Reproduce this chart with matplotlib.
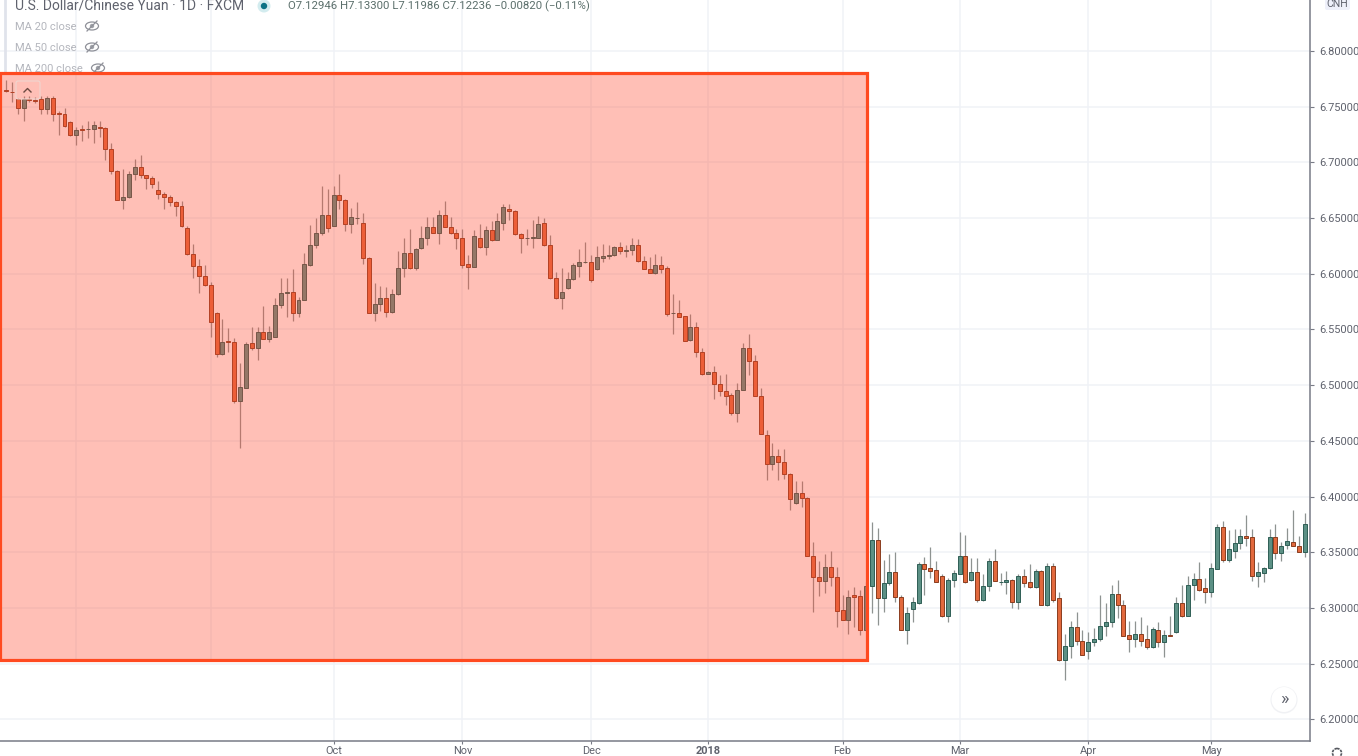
#!/usr/bin/env python3
"""USD/CNH daily candles with the shaded downtrend box."""

import matplotlib

matplotlib.use("Agg")

import matplotlib.pyplot as plt
import numpy as np
from matplotlib.patches import Circle, Ellipse, FancyBboxPatch, Rectangle
from matplotlib.transforms import Affine2D

plt.rcParams["font.family"] = ["Roboto", "DejaVu Sans"]

OPENS = [
    6.765, 6.7635, 6.757, 6.749, 6.757, 6.756, 6.757, 6.748, 6.758, 6.744,
    6.743, 6.736, 6.725, 6.730, 6.730, 6.730, 6.732, 6.731, 6.712, 6.692,
    6.666, 6.669, 6.690, 6.696, 6.689, 6.686, 6.675, 6.672, 6.669, 6.664,
    6.661, 6.641, 6.6175, 6.607, 6.598, 6.590, 6.565, 6.528, 6.5395, 6.539,
    6.486, 6.497, 6.538, 6.533, 6.548, 6.541, 6.543, 6.572, 6.583, 6.584,
    6.565, 6.576, 6.608, 6.626, 6.637, 6.653, 6.643, 6.671, 6.666, 6.645,
    6.650, 6.646, 6.614, 6.565, 6.573, 6.578, 6.566, 6.582, 6.605, 6.619,
    6.605, 6.623, 6.632, 6.642, 6.637, 6.653, 6.642, 6.637, 6.632, 6.609,
    6.606, 6.632, 6.624, 6.639, 6.630, 6.646, 6.658, 6.656, 6.636, 6.632,
    6.632, 6.632, 6.6455, 6.6255, 6.596, 6.578, 6.587, 6.595, 6.607, 6.611,
    6.611, 6.604, 6.6145, 6.616, 6.617, 6.624, 6.620, 6.621, 6.6255, 6.6115,
    6.604, 6.6005, 6.608, 6.605, 6.565, 6.565, 6.562, 6.5405, 6.5525, 6.530,
    6.510, 6.512, 6.501, 6.495, 6.491, 6.475, 6.496, 6.533, 6.522, 6.490,
    6.455, 6.429, 6.4365, 6.431, 6.420, 6.3945, 6.403, 6.399, 6.347, 6.3275,
    6.324, 6.337, 6.3275, 6.298, 6.289, 6.312, 6.311, 6.280, 6.320, 6.361,
    6.309, 6.322, 6.332, 6.3095, 6.280, 6.299, 6.304, 6.339, 6.336, 6.334,
    6.329, 6.293, 6.325, 6.3305, 6.3465, 6.325, 6.332, 6.307, 6.320, 6.342,
    6.3235, 6.3235, 6.325, 6.305, 6.329, 6.3235, 6.3185, 6.333, 6.303, 6.338,
    6.3085, 6.253, 6.266, 6.283, 6.270, 6.261, 6.2695, 6.2725, 6.2835, 6.2875,
    6.3125, 6.303, 6.2755, 6.2725, 6.277, 6.272, 6.2645, 6.2805, 6.269, 6.2755,
    6.278, 6.3045, 6.293, 6.3205, 6.326, 6.318, 6.3145, 6.335, 6.373, 6.343,
    6.351, 6.358, 6.365, 6.3635, 6.329, 6.331, 6.3355, 6.364, 6.349, 6.3565,
    6.3595, 6.356, 6.350,
]
CLOSES = [
    6.764, 6.763, 6.749, 6.757, 6.756, 6.755, 6.748, 6.758, 6.743, 6.743,
    6.733, 6.725, 6.729, 6.729, 6.730, 6.734, 6.731, 6.712, 6.692, 6.666,
    6.669, 6.690, 6.696, 6.689, 6.686, 6.681, 6.672, 6.669, 6.664, 6.661,
    6.643, 6.6175, 6.607, 6.598, 6.590, 6.557, 6.528, 6.539, 6.539, 6.486,
    6.498, 6.537, 6.533, 6.548, 6.541, 6.548, 6.572, 6.583, 6.584, 6.565,
    6.576, 6.609, 6.626, 6.637, 6.653, 6.641, 6.671, 6.666, 6.645, 6.651,
    6.650, 6.614, 6.565, 6.573, 6.578, 6.566, 6.582, 6.605, 6.619, 6.605,
    6.622, 6.632, 6.642, 6.637, 6.653, 6.642, 6.637, 6.632, 6.608, 6.606,
    6.634, 6.624, 6.639, 6.630, 6.647, 6.660, 6.656, 6.636, 6.632, 6.632,
    6.633, 6.645, 6.6255, 6.596, 6.578, 6.584, 6.595, 6.608, 6.611, 6.611,
    6.594, 6.615, 6.616, 6.617, 6.624, 6.620, 6.621, 6.6255, 6.6115, 6.604,
    6.601, 6.608, 6.604, 6.564, 6.565, 6.5615, 6.540, 6.5525, 6.530, 6.510,
    6.512, 6.501, 6.495, 6.4905, 6.475, 6.496, 6.533, 6.522, 6.490, 6.456,
    6.429, 6.4365, 6.431, 6.420, 6.3975, 6.403, 6.399, 6.347, 6.3275, 6.324,
    6.337, 6.3275, 6.2975, 6.289, 6.310, 6.310, 6.280, 6.320, 6.361, 6.309,
    6.322, 6.332, 6.3095, 6.280, 6.2955, 6.305, 6.339, 6.335, 6.3335, 6.323,
    6.293, 6.325, 6.331, 6.3465, 6.323, 6.332, 6.307, 6.320, 6.342, 6.324,
    6.3235, 6.325, 6.305, 6.329, 6.322, 6.3185, 6.333, 6.303, 6.338, 6.307,
    6.253, 6.266, 6.283, 6.270, 6.258, 6.269, 6.2725, 6.284, 6.2875, 6.3125,
    6.303, 6.275, 6.2725, 6.277, 6.2705, 6.2645, 6.281, 6.269, 6.2755, 6.275,
    6.3045, 6.293, 6.321, 6.326, 6.3165, 6.3145, 6.3355, 6.373, 6.343, 6.3525,
    6.358, 6.365, 6.363, 6.329, 6.332, 6.336, 6.364, 6.349, 6.356, 6.360,
    6.356, 6.350, 6.375,
]
HIGHS = [
    6.774, 6.772, 6.758, 6.760, 6.760, 6.759, 6.760, 6.760, 6.760, 6.746,
    6.749, 6.737, 6.732, 6.734, 6.737, 6.737, 6.737, 6.732, 6.717, 6.693,
    6.694, 6.692, 6.703, 6.707, 6.689, 6.688, 6.683, 6.673, 6.671, 6.665,
    6.665, 6.643, 6.627, 6.613, 6.608, 6.593, 6.566, 6.559, 6.551, 6.542,
    6.520, 6.539, 6.552, 6.552, 6.571, 6.553, 6.578, 6.596, 6.596, 6.604,
    6.579, 6.619, 6.644, 6.650, 6.679, 6.676, 6.679, 6.690, 6.667, 6.659,
    6.664, 6.655, 6.615, 6.592, 6.589, 6.588, 6.586, 6.620, 6.632, 6.640,
    6.623, 6.643, 6.651, 6.651, 6.657, 6.665, 6.651, 6.640, 6.640, 6.617,
    6.639, 6.645, 6.643, 6.647, 6.655, 6.663, 6.663, 6.657, 6.637, 6.640,
    6.648, 6.652, 6.650, 6.6345, 6.602, 6.605, 6.602, 6.610, 6.622, 6.6285,
    6.617, 6.625, 6.627, 6.6255, 6.625, 6.6285, 6.6255, 6.632, 6.631, 6.616,
    6.615, 6.618, 6.616, 6.607, 6.582, 6.576, 6.562, 6.5635, 6.557, 6.533,
    6.513, 6.5175, 6.509, 6.510, 6.493, 6.502, 6.538, 6.546, 6.527, 6.497,
    6.460, 6.448, 6.443, 6.443, 6.421, 6.4135, 6.4135, 6.400, 6.359, 6.342,
    6.348, 6.351, 6.3365, 6.312, 6.316, 6.3185, 6.316, 6.323, 6.377, 6.372,
    6.343, 6.348, 6.3505, 6.3115, 6.3005, 6.310, 6.3415, 6.346, 6.3545, 6.342,
    6.3305, 6.327, 6.334, 6.3685, 6.3655, 6.345, 6.345, 6.330, 6.345, 6.353,
    6.331, 6.333, 6.326, 6.330, 6.335, 6.339, 6.335, 6.334, 6.3405, 6.3405,
    6.314, 6.2765, 6.288, 6.2965, 6.280, 6.2785, 6.282, 6.312, 6.304, 6.321,
    6.3255, 6.307, 6.2885, 6.2885, 6.2915, 6.2845, 6.2825, 6.287, 6.280, 6.293,
    6.3095, 6.321, 6.329, 6.331, 6.341, 6.3265, 6.340, 6.3755, 6.378, 6.3695,
    6.3705, 6.3705, 6.383, 6.371, 6.341, 6.337, 6.3705, 6.3755, 6.359, 6.372,
    6.388, 6.365, 6.3855,
]
LOWS = [
    6.763, 6.754, 6.743, 6.737, 6.754, 6.753, 6.743, 6.743, 6.737, 6.725,
    6.732, 6.724, 6.716, 6.719, 6.722, 6.717, 6.723, 6.702, 6.690, 6.666,
    6.658, 6.668, 6.684, 6.686, 6.676, 6.677, 6.667, 6.658, 6.661, 6.652,
    6.642, 6.617, 6.596, 6.583, 6.589, 6.543, 6.525, 6.527, 6.530, 6.484,
    6.444, 6.497, 6.532, 6.523, 6.541, 6.539, 6.543, 6.569, 6.561, 6.558,
    6.561, 6.576, 6.607, 6.623, 6.635, 6.6375, 6.643, 6.658, 6.638, 6.637,
    6.645, 6.609, 6.565, 6.558, 6.567, 6.561, 6.565, 6.581, 6.597, 6.604,
    6.603, 6.622, 6.626, 6.637, 6.627, 6.642, 6.636, 6.622, 6.605, 6.586,
    6.606, 6.623, 6.617, 6.629, 6.630, 6.639, 6.648, 6.635, 6.619, 6.626,
    6.623, 6.632, 6.625, 6.595, 6.577, 6.568, 6.586, 6.594, 6.597, 6.610,
    6.593, 6.603, 6.611, 6.613, 6.616, 6.6175, 6.615, 6.617, 6.611, 6.604,
    6.601, 6.600, 6.601, 6.562, 6.546, 6.561, 6.540, 6.540, 6.525, 6.509,
    6.510, 6.4875, 6.490, 6.482, 6.473, 6.467, 6.496, 6.509, 6.490, 6.456,
    6.415, 6.424, 6.415, 6.416, 6.388, 6.393, 6.391, 6.347, 6.296, 6.311,
    6.313, 6.320, 6.283, 6.289, 6.277, 6.283, 6.276, 6.279, 6.295, 6.285,
    6.296, 6.321, 6.305, 6.280, 6.268, 6.287, 6.3035, 6.312, 6.327, 6.323,
    6.292, 6.287, 6.319, 6.3305, 6.322, 6.3245, 6.305, 6.3065, 6.315, 6.324,
    6.3205, 6.3125, 6.300, 6.299, 6.319, 6.3175, 6.3175, 6.3025, 6.302, 6.3055,
    6.2525, 6.2355, 6.255, 6.267, 6.2575, 6.254, 6.266, 6.2705, 6.2745, 6.283,
    6.291, 6.2745, 6.260, 6.2645, 6.266, 6.263, 6.264, 6.265, 6.256, 6.2745,
    6.2775, 6.292, 6.2925, 6.307, 6.315, 6.304, 6.3095, 6.335, 6.341, 6.3415,
    6.3445, 6.353, 6.356, 6.324, 6.319, 6.323, 6.335, 6.344, 6.342, 6.353,
    6.356, 6.350, 6.346,
]

PRICE_TICKS = [6.20, 6.25, 6.30, 6.35, 6.40, 6.45, 6.50, 6.55, 6.60, 6.65, 6.70, 6.75, 6.80]
MONTH_BARS = [56, 78, 100, 120, 143, 163, 185, 206]
MONTH_LABELS = ["Oct", "Nov", "Dec", "2018", "Feb", "Mar", "Apr", "May"]
# these two month lines have no label and stop at the bottom of the box
UNLABELLED_BARS = [12, 35]
BOX_LEFT, BOX_RIGHT = -0.95, 147.2
BOX_LOW, BOX_HIGH = 6.2532, 6.7802

UP_COLOR, UP_EDGE = "#5c9085", "#2f5e55"
DOWN_COLOR, DOWN_EDGE = "#e2693d", "#8a3d1f"
WICK = "#8e9391"
GRID = "#f0f2f7"
INK = "#787b86"
BOX = "#ff4a20"
BOX_FILL = "#ff4a30"

W, H = 1358, 756
PLOT_R, PLOT_B = 1310, 741

fig = plt.figure(figsize=(W / 100, H / 100), dpi=100, facecolor="white")
ax = fig.add_axes([0, (H - PLOT_B) / H, PLOT_R / W, PLOT_B / H])
ax.set_xlim(-1.026, 222.9)
ax.set_ylim(6.1805, 6.8458)

# pixel coordinates for the TradingView chrome, origin top-left
px = Affine2D().scale(1, -1).translate(0, H)

for side in ["top", "left"]:
    ax.spines[side].set_visible(False)
for side in ["right", "bottom"]:
    ax.spines[side].set_color(INK)
    ax.spines[side].set_linewidth(1.1)

ax.yaxis.tick_right()
ax.set_yticks(PRICE_TICKS)
ax.set_yticklabels([f"{p:.5f}" for p in PRICE_TICKS], fontsize=7.9, color="#5f626d")
ax.set_xticks(MONTH_BARS)
ax.set_xticklabels(MONTH_LABELS, fontsize=7.9, color="#5f626d")
ax.get_xticklabels()[3].set_fontweight("bold")
ax.tick_params(axis="y", length=3, width=0.8, color=INK, pad=3.5)
ax.tick_params(axis="x", length=2.5, width=0.8, color=INK, pad=1)
ax.grid(True, color=GRID, linewidth=1.1, zorder=0)
ax.set_axisbelow(True)
ax.vlines(UNLABELLED_BARS, BOX_LOW, ax.get_ylim()[1], color=GRID, linewidth=1.1, zorder=1)

o, h, l, c = map(np.array, (OPENS, HIGHS, LOWS, CLOSES))
x = np.arange(len(o))
up = c >= o
ax.vlines(x, l, h, color=WICK, linewidth=0.9, zorder=2)
ax.bar(
    x, np.abs(c - o), bottom=np.minimum(o, c), width=0.68,
    color=np.where(up, UP_COLOR, DOWN_COLOR),
    edgecolor=np.where(up, UP_EDGE, DOWN_EDGE), linewidth=0.7, zorder=3,
)

# header and legend block
ax.text(15, 6, "U.S. Dollar/Chinese Yuan · 1D · FXCM", transform=px, fontsize=10,
        color="#5f626d", va="center", clip_on=False, zorder=4)
ax.text(288, 6, "O7.12946 H7.13300 L7.11986 C7.12236 −0.00820 (−0.11%)", transform=px,
        fontsize=8.2, color="#5b6f6b", va="center", clip_on=False, zorder=4)
ax.add_patch(Circle((264, 6), 6.5, transform=px, facecolor="#d3ecef", edgecolor="none",
                    clip_on=False, zorder=4))
ax.add_patch(Circle((264, 6), 3.2, transform=px, facecolor="#0b7285", edgecolor="none",
                    clip_on=False, zorder=5))
ax.plot([5, 5], [0, 73], transform=px, color="#e0e3eb", linewidth=2, clip_on=False, zorder=4)

for label, tx, ty, eye_x in [("MA 20 close", 15, 27, 92), ("MA 50 close", 15, 48, 92),
                             ("MA 200 close", 15, 69, 98)]:
    ax.text(tx, ty, label, transform=px, fontsize=8, color="#b4b6bd", va="center",
            clip_on=False, zorder=4)
    ax.add_patch(Ellipse((eye_x, ty - 1), 13, 8, transform=px, facecolor="none",
                         edgecolor="#8f9199", linewidth=0.9, clip_on=False, zorder=4))
    ax.add_patch(Circle((eye_x, ty - 1), 2.2, transform=px, facecolor="#a0a2a9",
                        edgecolor="none", clip_on=False, zorder=4))
    ax.plot([eye_x - 5, eye_x + 5], [ty + 4, ty - 6], transform=px, color="#8f9199",
            linewidth=0.9, clip_on=False, zorder=4)

# collapse button sits under the shaded box
ax.add_patch(FancyBboxPatch((16, 81), 24, 18, boxstyle="round,pad=0,rounding_size=2", transform=px,
                            facecolor="none", edgecolor="#f0d6d0", linewidth=0.8, zorder=7))
ax.plot([24, 27.5, 31], [92, 88.5, 92], transform=px, color="#6d4a42", linewidth=1, zorder=7)

# the drawn box, anchored to bar/price like the original drawing tool
box_xy = (BOX_LEFT, BOX_LOW)
box_w, box_h = BOX_RIGHT - BOX_LEFT, BOX_HIGH - BOX_LOW
ax.add_patch(Rectangle(box_xy, box_w, box_h, facecolor=BOX_FILL, alpha=0.35, edgecolor="none", zorder=6))
ax.add_patch(Rectangle(box_xy, box_w, box_h, facecolor="none", edgecolor=BOX, linewidth=2.3, zorder=7))

# currency tag, scroll button, settings gear
ax.add_patch(FancyBboxPatch((1325, -4), 25, 14, boxstyle="round,pad=0,rounding_size=2", transform=px,
                            facecolor="#eef0fa", edgecolor="none", clip_on=False, zorder=4))
ax.text(1337, 4, "CNH", transform=px, fontsize=7.6, color="#5f626d", ha="center", va="center",
        clip_on=False, zorder=5)
ax.add_patch(Circle((1284, 700), 13.5, transform=px, facecolor="#f0f1f4", edgecolor="none",
                    clip_on=False, zorder=4))
ax.add_patch(Circle((1284, 699.5), 12.5, transform=px, facecolor="white", edgecolor="none",
                    clip_on=False, zorder=5))
ax.text(1284, 699, "»", transform=px, fontsize=13, color="#5f626d", ha="center", va="center",
        clip_on=False, zorder=6)
ax.add_patch(Circle((1337, 753), 4.5, transform=px, facecolor="none", edgecolor="#55585f",
                    linewidth=1.2, linestyle=(0, (1.6, 0.6)), clip_on=False, zorder=4))

fig.savefig("out.png", dpi=100, facecolor="white")
